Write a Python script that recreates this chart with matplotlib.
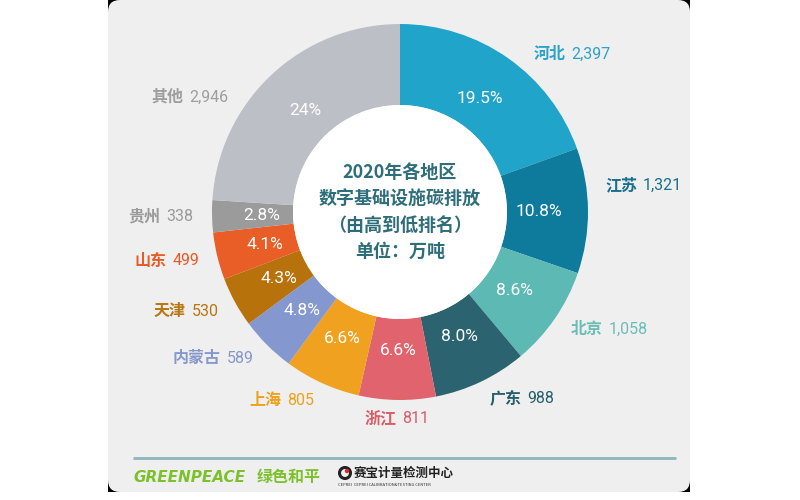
import numpy as np
import matplotlib
matplotlib.use("Agg")
import matplotlib.pyplot as plt
from matplotlib.patches import FancyBboxPatch, Rectangle, Circle

plt.rcParams['font.family'] = ['Noto Sans CJK SC', 'DejaVu Sans']

# data (万吨), clockwise from 12 o'clock
regions = ['河北', '江苏', '北京', '广东', '浙江', '上海', '内蒙古', '天津', '山东', '贵州', '其他']
values = [2397, 1321, 1058, 988, 811, 805, 589, 530, 499, 338, 2946]
pct_labels = ['19.5%', '10.8%', '8.6%', '8.0%', '6.6%', '6.6%', '4.8%', '4.3%', '4.1%', '2.8%', '24%']
slice_colors = ['#21a4c9', '#0e7b9c', '#5cb9b4', '#2b6470', '#e0636d', '#f0a11f',
                '#8498cf', '#b8720b', '#e95d26', '#9b9b9b', '#bcc0c6']
label_colors = ['#2ba3c6', '#1a6f8d', '#6bbcb7', '#265f6b', '#d95d67', '#eda11d',
                '#8697cb', '#b87710', '#e65b27', '#9a9a9a', '#9e9e9e']
title = '2020年各地区\n数字基础设施碳排放\n（由高到低排名）\n单位：万吨'

# layout (pixels, y up)
W, H = 800, 500
cx, cy = 400, 288
R = 188
ring = 81
nudge = {'河北': -5, '江苏': 7, '其他': 13}

fig = plt.figure(figsize=(8, 5), dpi=100)
fig.patch.set_facecolor('white')
ax = fig.add_axes([0, 0, 1, 1])

# card with dark corners like the screenshot
ax.add_patch(Rectangle((108, 8), 582, 492, facecolor='black', edgecolor='none', zorder=0))
ax.add_patch(FancyBboxPatch((108, 8), 582, 492, boxstyle='round,pad=0,rounding_size=12',
                            facecolor='#efefef', edgecolor='none', zorder=0.5))

wedges, _ = ax.pie(values, startangle=90, counterclock=False, radius=R, center=(cx, cy),
                   colors=slice_colors, frame=True,
                   wedgeprops=dict(width=ring, linewidth=0))
ax.add_patch(Circle((cx, cy), R - ring, facecolor='white', edgecolor='none', zorder=3))

fig.canvas.draw()
renderer = fig.canvas.get_renderer()

for w, name, val, pct, lc in zip(wedges, regions, values, pct_labels, label_colors):
    mid = np.deg2rad((w.theta1 + w.theta2) / 2)
    # percentage inside the ring
    rp = R - ring / 2 - 9
    ax.text(cx + rp * np.cos(mid), cy + rp * np.sin(mid), pct, color='white',
            fontsize=12.5, ha='center', va='center', family=['Roboto', 'DejaVu Sans'], zorder=4)
    # outside labels
    a = mid + np.deg2rad(nudge.get(name, 0))
    rl = R * 1.1
    x, y = cx + rl * np.cos(a), cy + rl * np.sin(a)
    vtxt = f'{val:,}'
    c = np.cos(a)
    if abs(c) < 0.2:
        ha = 'center'
    elif c > 0:
        ha = 'left'
    else:
        ha = 'right'
    t1 = ax.text(0, 0, name, color=lc, fontsize=11.5, fontweight='bold', va='center', zorder=4)
    t2 = ax.text(0, 0, vtxt, color=lc, fontsize=11.5, va='center', zorder=4,
                 family=['Roboto', 'DejaVu Sans'])
    w1 = t1.get_window_extent(renderer).width
    w2 = t2.get_window_extent(renderer).width
    gap = 6
    total = w1 + gap + w2
    if ha == 'left':
        x0 = x
    elif ha == 'right':
        x0 = x - total
    else:
        x0 = x - total / 2
    t1.set_position((x0, y))
    t2.set_position((x0 + w1 + gap, y))

ax.text(cx, cy, title, color='#2e6e7b', fontsize=13, fontweight='bold', ha='center',
        va='center', linespacing=1.5, zorder=5)

# footer
ax.plot([133, 676], [42, 42], color='#8cb5bd', lw=2, solid_capstyle='butt', zorder=2)
ax.text(133, 23, 'GREENPEACE', color='#7cc12b', fontsize=11, fontweight='bold',
        fontstyle='italic', family=['DejaVu Sans'], va='center', zorder=2)
ax.text(257, 23, '绿色和平', color='#7cc12b', fontsize=11.5, fontweight='bold', va='center', zorder=2)
ax.add_patch(Circle((345, 27), 5.5, facecolor='none', edgecolor='#222222', lw=2.2, zorder=2))
ax.add_patch(Circle((347, 29), 2.2, facecolor='#d8282b', edgecolor='none', zorder=2))
ax.text(354, 27, '赛宝计量检测中心', color='#222222', fontsize=9, fontweight='bold', va='center', zorder=2)
ax.text(338, 15, 'CEPREI  CEPREI CALIBRATION&TESTING CENTER', color='#333333', fontsize=3,
        va='center', zorder=2)

ax.set_xlim(0, W)
ax.set_ylim(0, H)
ax.set_aspect('equal')
ax.axis('off')

fig.savefig('out.png', dpi=100, facecolor='white')
